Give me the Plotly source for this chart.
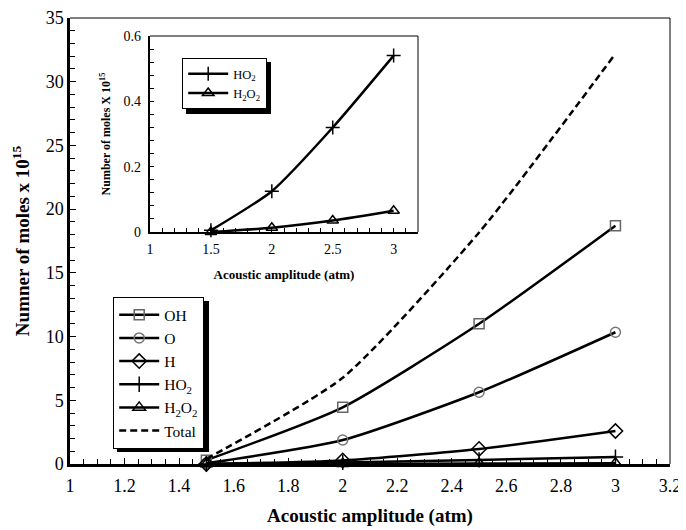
import plotly.graph_objects as go

amplitude = [1.5, 2.0, 2.5, 3.0]
oh = [0.3, 4.45, 11.0, 18.7]
o = [0.05, 1.88, 5.63, 10.34]
h = [0.0, 0.28, 1.18, 2.59]
ho2 = [0.005, 0.125, 0.32, 0.54]
h2o2 = [0.0, 0.013, 0.035, 0.065]
total = [0.4, 6.77, 18.17, 32.2]

FONT = "'Liberation Serif', 'Times New Roman', Tinos, 'DejaVu Serif', serif"
OFF = 8  # page body margin
W, H = 686 - OFF, 530 - OFF
ML, MR, MT, MB = 70 - OFF, 16, 18 - OFF, 66
PW, PH = W - ML - MR, H - MT - MB

def px_x(x):
    return (x - OFF - ML) / PW

def px_y(y):
    return 1 - (y - OFF - MT) / PH

fig = go.Figure()

line = dict(color="black", width=2.5, shape="spline", smoothing=0.6)
specs = [
    ("OH", oh, dict(symbol="square-open", size=10, color="#666", line=dict(width=1.5))),
    ("O", o, dict(symbol="circle-open", size=10, color="#777", line=dict(width=1.5))),
    ("H", h, dict(symbol="diamond-open", size=11, color="black", line=dict(width=1.5))),
    ("HO<sub>2</sub>", ho2, dict(symbol="cross-thin-open", size=11, color="black", line=dict(width=1.5))),
    ("H<sub>2</sub>O<sub>2</sub>", h2o2, dict(symbol="triangle-up-open", size=11, color="black", line=dict(width=1.5))),
]
for name, vals, mk in specs:
    fig.add_trace(go.Scatter(x=amplitude, y=vals, name=name, mode="lines+markers",
                             line=line, marker=mk, cliponaxis=False,
                             xaxis="x", yaxis="y", legend="legend"))
fig.add_trace(go.Scatter(x=amplitude, y=total, name="Total", mode="lines",
                         line=dict(color="black", width=2.5, dash="7px,4px", shape="spline", smoothing=0.6),
                         xaxis="x", yaxis="y", legend="legend"))

# inset
fig.add_trace(go.Scatter(x=amplitude, y=ho2, name="HO<sub>2</sub>", mode="lines+markers",
                         line=line, marker=dict(symbol="cross-thin-open", size=10, color="black", line=dict(width=1.5)),
                         cliponaxis=False, xaxis="x2", yaxis="y2", legend="legend2"))
fig.add_trace(go.Scatter(x=amplitude, y=h2o2, name="H<sub>2</sub>O<sub>2</sub>", mode="lines+markers",
                         line=line, marker=dict(symbol="triangle-up-open", size=10, color="black", line=dict(width=1.5)),
                         cliponaxis=False, xaxis="x2", yaxis="y2", legend="legend2"))

ix0, ix1, iy0, iy1 = 150, 418, 36, 232
inset_dom_x = [px_x(ix0), px_x(ix1)]
inset_dom_y = [px_y(iy1), px_y(iy0)]

axis_common = dict(showgrid=False, zeroline=False, showline=True, linecolor="black", automargin=False,
                   ticks="inside", tickcolor="black", color="black")

fig.update_layout(
    template="none",
    width=W, height=H, margin=dict(l=ML, r=MR, t=MT, b=MB, autoexpand=False),
    paper_bgcolor="white", plot_bgcolor="white",
    font=dict(family=FONT, color="black"),
    xaxis=dict(**axis_common, range=[1, 3.2], dtick=0.2, tick0=1, linewidth=2.5, ticklen=6,
               tickwidth=1.2, tickfont=dict(size=18, family=FONT), tickformat=".1~f", ticklabelstandoff=4,
               minor=dict(dtick=0.05, ticks="inside", ticklen=5, tickcolor="black", tickwidth=1.2),
               title=dict(text="<b>Acoustic amplitude (atm)</b>", font=dict(size=19, family=FONT), standoff=14),
               domain=[0, 1]),
    yaxis=dict(**axis_common, range=[0, 35], dtick=5, linewidth=2.5, ticklen=6,
               tickwidth=1.2, tickfont=dict(size=18, family=FONT),
               minor=dict(dtick=1, ticks="inside", ticklen=5, tickcolor="black", tickwidth=1.2),
               title=dict(text="<b>Numner of moles x 10<sup>15</sup></b>", font=dict(size=19, family=FONT), standoff=12),
               domain=[0, 1]),
    xaxis2=dict(**axis_common, range=[1, 3.2], tickvals=[1, 1.5, 2, 2.5, 3], linewidth=2.2, ticklen=4,
                tickwidth=1, tickfont=dict(size=14, family=FONT), anchor="y2", domain=inset_dom_x, ticklabelstandoff=3,
                minor=dict(dtick=0.1, ticks="inside", ticklen=4, tickcolor="black", tickwidth=1),
                title=dict(text="<b>Acoustic amplitude (atm)</b>", font=dict(size=13, family=FONT), standoff=14)),
    yaxis2=dict(**axis_common, range=[0, 0.6], tickvals=[0, 0.2, 0.4, 0.6], ticktext=["0", "0.2", "0.4", "0.6"],
                linewidth=2.2, ticklen=4, tickwidth=1, tickfont=dict(size=14, family=FONT), anchor="x2", domain=inset_dom_y,
                ticklabelstandoff=4,
                minor=dict(dtick=0.04, ticks="inside", ticklen=4, tickcolor="black", tickwidth=1),
                title=dict(text="<b>Number of moles X 10<sup>15</sup></b>", font=dict(size=12, family=FONT), standoff=10)),
    legend=dict(x=px_x(113), y=px_y(297), xanchor="left", yanchor="top",
                bgcolor="white", bordercolor="black", borderwidth=1.2,
                font=dict(size=15.5, family=FONT), tracegroupgap=0, itemwidth=40),
    legend2=dict(x=px_x(182), y=px_y(58), xanchor="left", yanchor="top",
                 bgcolor="white", bordercolor="black", borderwidth=1.2,
                 font=dict(size=12.5, family=FONT), tracegroupgap=0, itemwidth=40),
    showlegend=True,
)

shapes = [
    dict(type="line", xref="paper", yref="paper", x0=0, x1=1, y0=1, y1=1, line=dict(color="black", width=1)),
    dict(type="line", xref="paper", yref="paper", x0=1, x1=1, y0=0, y1=1, line=dict(color="black", width=1)),
    dict(type="line", xref="paper", yref="paper", x0=inset_dom_x[0], x1=inset_dom_x[1], y0=inset_dom_y[1], y1=inset_dom_y[1], line=dict(color="black", width=1)),
    dict(type="line", xref="paper", yref="paper", x0=inset_dom_x[1], x1=inset_dom_x[1], y0=inset_dom_y[0], y1=inset_dom_y[1], line=dict(color="black", width=1)),
    dict(type="rect", xref="paper", yref="paper", x0=px_x(117), x1=px_x(209), y0=px_y(452), y1=px_y(301),
         fillcolor="black", line=dict(width=0), layer="above"),
    dict(type="rect", xref="paper", yref="paper", x0=px_x(186), x1=px_x(271), y0=px_y(114), y1=px_y(62),
         fillcolor="black", line=dict(width=0), layer="above"),
]
fig.update_layout(shapes=shapes)

fig.write_html("out.html")
